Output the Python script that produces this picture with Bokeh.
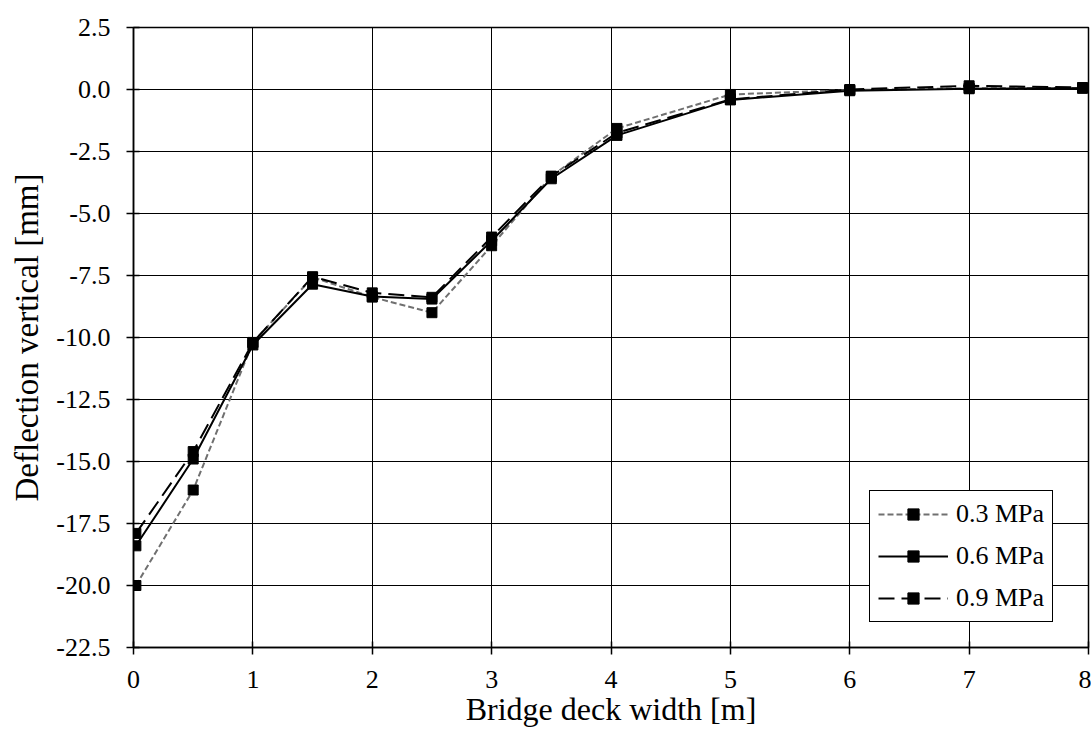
from bokeh.plotting import figure
from bokeh.models import FixedTicker, NumeralTickFormatter, Range1d, Legend, LegendItem
from bokeh.embed import file_html
from bokeh.resources import INLINE

x_vals = [0.02, 0.5, 1.0, 1.5, 2.0, 2.5, 3.0, 3.5, 4.05, 5.0, 6.0, 7.0, 7.95]
mpa03 = [-20.0, -16.15, -10.2, -7.57, -8.37, -9.0, -6.3, -3.5, -1.57, -0.2, -0.02, 0.05, 0.06]
mpa06 = [-18.4, -14.9, -10.3, -7.85, -8.35, -8.45, -6.1, -3.6, -1.85, -0.42, -0.05, 0.03, 0.05]
mpa09 = [-17.9, -14.6, -10.2, -7.55, -8.2, -8.38, -5.95, -3.5, -1.75, -0.4, 0.0, 0.15, 0.08]
series_names = ["0.3 MPa", "0.6 MPa", "0.9 MPa"]
x_ticks = [0, 1, 2, 3, 4, 5, 6, 7, 8]
y_ticks = [2.5, 0.0, -2.5, -5.0, -7.5, -10.0, -12.5, -15.0, -17.5, -20.0, -22.5]
x_title = "Bridge deck width [m]"
y_title = "Deflection vertical [mm]"

FONT = "Liberation Serif"

p = figure(width=1091, height=729, output_backend="svg", toolbar_location=None,
           x_range=Range1d(0, 8), y_range=Range1d(-22.5, 2.5))
p.min_border_left = 133
p.min_border_right = 3
p.min_border_top = 27
p.min_border_bottom = 82
p.background_fill_color = "white"
p.border_fill_color = "white"
p.outline_line_color = "black"
p.outline_line_width = 1.5

p.xaxis.ticker = FixedTicker(ticks=x_ticks)
p.yaxis.ticker = FixedTicker(ticks=y_ticks)
p.yaxis.formatter = NumeralTickFormatter(format="0.0")
for ax in (p.xaxis[0], p.yaxis[0]):
    ax.axis_line_color = "black"
    ax.axis_line_width = 1.5
    ax.major_tick_line_color = "black"
    ax.major_tick_line_width = 1.5
    ax.major_tick_out = 7
    ax.major_tick_in = 6
    ax.minor_tick_line_color = None
    ax.major_label_text_font = FONT
    ax.major_label_text_font_size = "26px"
    ax.major_label_text_color = "black"
    ax.major_label_standoff = 16
    ax.axis_label_text_font = FONT
    ax.axis_label_text_font_size = "33px"
    ax.axis_label_text_font_style = "normal"
    ax.axis_label_text_color = "black"
p.yaxis.axis_label = y_title
p.yaxis.axis_label_standoff = 8
p.xaxis.axis_label = x_title
p.xaxis.axis_label_text_font_size = "32px"
p.xaxis.axis_label_standoff = 0

p.xgrid.grid_line_color = "black"
p.ygrid.grid_line_color = "black"
p.xgrid.grid_line_width = 1
p.ygrid.grid_line_width = 1

styles = [
    dict(color="#707070", width=2, dash="6 3"),
    dict(color="black", width=2, dash="solid"),
    dict(color="black", width=2, dash="16 7"),
]
items = []
for name, ys, st in zip(series_names, [mpa03, mpa06, mpa09], styles):
    l = p.line(x_vals, ys, line_color=st["color"], line_width=st["width"], line_dash=st["dash"])
    s = p.scatter(x_vals, ys, marker="square", size=10, fill_color="black", line_color="black")
    items.append(LegendItem(label=name, renderers=[l, s]))

legend = Legend(items=items, location=(736, 25))
legend.label_text_font = FONT
legend.label_text_font_size = "26px"
legend.label_text_color = "black"
legend.border_line_color = "black"
legend.border_line_width = 1.5
legend.border_line_alpha = 1
legend.background_fill_alpha = 1
legend.glyph_width = 70
legend.glyph_height = 28
legend.label_height = 28
legend.spacing = 12
legend.padding = 8
legend.margin = 0
legend.label_standoff = 8
p.add_layout(legend)

open("out.html", "w").write(file_html(p, INLINE))
